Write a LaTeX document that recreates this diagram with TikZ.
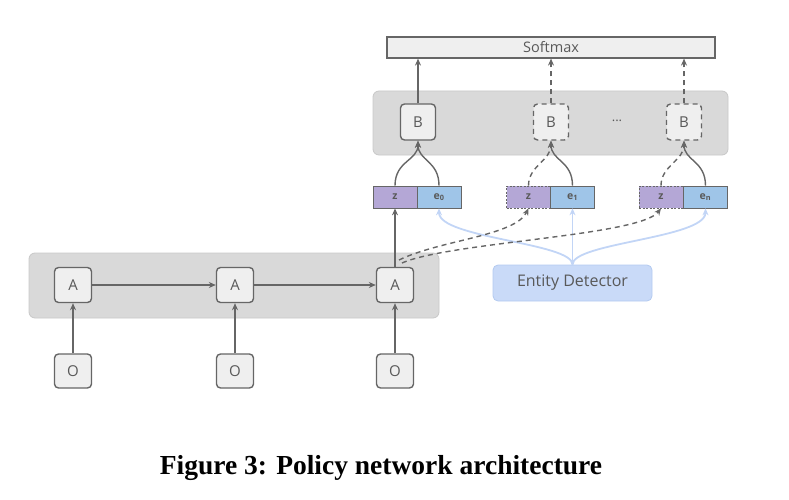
\documentclass[tikz,border=0pt]{standalone}
\usepackage{fontspec}
\setmainfont{Open Sans}
\newfontfamily\capfont{Liberation Serif}
\usetikzlibrary{arrows.meta}
\definecolor{pgray}{HTML}{D9D9D9}
\definecolor{pborder}{HTML}{C8C8C8}
\definecolor{bfill}{HTML}{EFEFEF}
\definecolor{bline}{HTML}{666666}
\definecolor{txt}{HTML}{595959}
\definecolor{zpur}{HTML}{B4A7D6}
\definecolor{eblu}{HTML}{9FC5E8}
\definecolor{edfill}{HTML}{C9DAF8}
\definecolor{edline}{HTML}{B3CAF0}
\definecolor{larrow}{HTML}{C2D5F6}
\tikzset{
  panel/.style={draw=pborder, fill=pgray, rounded corners=6pt, line width=0.8pt},
  cellbox/.style={draw=bline, fill=bfill, rounded corners=4pt, line width=1.4pt, text=txt, font=\fontsize{15}{17}\selectfont, inner sep=0pt},
  dbox/.style={cellbox, dash pattern=on 5pt off 4pt},
  vec/.style={draw=bline, line width=0.7pt, minimum width=44pt, minimum height=22pt, inner sep=0pt, font=\fontsize{10.5}{11}\selectfont\bfseries, text=black!65},
  dvec/.style={vec, dash pattern=on 2pt off 1.5pt},
  conn/.style={draw=bline, line width=1.4pt, -{Stealth[length=7pt,width=6pt]}},
  dconn/.style={conn, dash pattern=on 5pt off 4pt},
  lconn/.style={draw=larrow, line width=1.8pt, -{Stealth[length=7pt,width=6pt]}},
}
\begin{document}
\begin{tikzpicture}[x=1pt,y=-1pt]
\useasboundingbox (0,0) rectangle (789,500);
% panels
\node[panel, minimum width=355pt, minimum height=64pt] (up) at (550.5,123) {};
\node[panel, minimum width=410pt, minimum height=65pt] (lo) at (234,285.5) {};
% softmax
\node[draw=bline, fill=bfill, line width=1.2pt, minimum width=328pt, minimum height=21pt, inner sep=0pt, text=txt, font=\fontsize{14.5}{16}\selectfont] (sm) at (551,47.5) {Softmax};
% B boxes
\node[cellbox, minimum width=35pt, minimum height=36pt] (b0) at (418,122) {B};
\node[dbox, minimum width=35pt, minimum height=36pt] (b1) at (551,122) {B};
\node[dbox, minimum width=35pt, minimum height=36pt] (b2) at (684,122) {B};
\node[text=txt, font=\fontsize{13}{14}\selectfont] (dots) at (617,121) {...};
% vectors
\node[vec, fill=zpur] (z0) at (395,197) {z};
\node[vec, fill=eblu] (e0) at (439,197) {e$_{\mathbf 0}$};
\node[dvec, fill=zpur] (z1) at (528.5,197) {z};
\node[vec, fill=eblu] (e1) at (572.5,197) {e$_{\mathbf 1}$};
\node[dvec, fill=zpur] (z2) at (661,197) {z};
\node[vec, fill=eblu] (e2) at (705.5,197) {e$_{\mathbf n}$};
% A and O boxes
\node[cellbox, minimum width=37pt, minimum height=35pt] (a0) at (73,285) {A};
\node[cellbox, minimum width=37pt, minimum height=35pt] (a1) at (235,285) {A};
\node[cellbox, minimum width=37pt, minimum height=35pt] (a2) at (395,285) {A};
\node[cellbox, minimum width=37pt, minimum height=34pt] (o0) at (73,371) {O};
\node[cellbox, minimum width=37pt, minimum height=34pt] (o1) at (235,371) {O};
\node[cellbox, minimum width=37pt, minimum height=34pt] (o2) at (395,371) {O};
% entity detector
\node[draw=edline, fill=edfill, rounded corners=5pt, line width=0.8pt, minimum width=159pt, minimum height=36pt, text=txt, font=\fontsize{16}{18}\selectfont] (ed) at (572.5,283) {Entity Detector};
% connectors: O -> A, A -> A
\draw[conn] (o0) -- (a0);
\draw[conn] (o1) -- (a1);
\draw[conn] (o2) -- (a2);
\draw[conn] (a0) -- (a1);
\draw[conn] (a1) -- (a2);
\draw[conn] (a2) -- (z0);
% entity detector to e
\draw[lconn] (ed) -- (e1);
\draw[lconn] (ed.north) .. controls +(0,-22) and +(0,30) .. (e0.south);
\draw[lconn] (ed.north) .. controls +(0,-22) and +(0,30) .. (e2.south);
% dashed from A to z1, z2
\coordinate (ds1) at (399,260);
\coordinate (ds2) at (402,263);
\draw[dconn] (ds1) .. controls (440,240) and (515,236) .. (z1.south);
\draw[dconn] (ds2) .. controls (450,242) and (640,236) .. (z2.south);
% vectors to B
\draw[conn] (z0.north) .. controls +(0,-25) and +(0,20) .. (b0.south);
\draw[conn] (e0.north) .. controls +(0,-25) and +(0,20) .. (b0.south);
\draw[dconn] (z1.north) .. controls +(0,-20) and +(0,20) .. (b1.south);
\draw[conn] (e1.north) .. controls +(0,-25) and +(0,20) .. (b1.south);
\draw[dconn] (z2.north) .. controls +(0,-20) and +(0,20) .. (b2.south);
\draw[conn] (e2.north) .. controls +(0,-25) and +(0,20) .. (b2.south);
% B to softmax
\draw[conn] (b0.north) -- (b0.north |- sm.south);
\draw[dconn] (b1.north) -- (b1.north |- sm.south);
\draw[dconn] (b2.north) -- (b2.north |- sm.south);
% caption
\node[font=\capfont\bfseries\fontsize{27.5}{30}\selectfont] (cap) at (381,468) {Figure 3: Policy network architecture};
\end{tikzpicture}
\end{document}
